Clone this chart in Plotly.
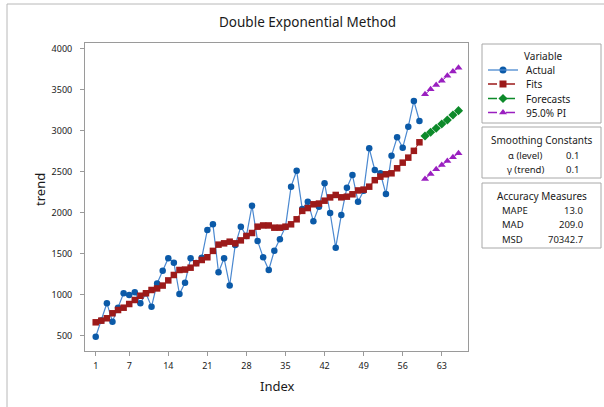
import plotly.graph_objects as go

# ---------------- data ----------------
index_actual = list(range(1, 60))
actual = [490, 690, 900, 675, 845, 1020, 1000, 1033, 900, 1020,
          857, 1140, 1295, 1448, 1394, 1012, 1150, 1448, 1390, 1455,
          1793, 1862, 1277, 1448, 1115, 1610, 1833, 1720, 2089, 1659,
          1460, 1305, 1540, 1679, 1830, 2321, 2516, 2050, 2138, 1900,
          2077, 2362, 2000, 1577, 1976, 2309, 2463, 2138, 2270, 2789,
          2524, 2484, 2232, 2699, 2923, 2797, 3052, 3366, 3122]
fits = [667, 687, 716, 777, 817, 845, 890, 939, 991, 1021,
        1061, 1080, 1115, 1178, 1244, 1305, 1310, 1333, 1387, 1427,
        1460, 1538, 1614, 1630, 1650, 1630, 1666, 1720, 1756, 1833,
        1848, 1848, 1821, 1821, 1833, 1862, 1923, 2026, 2060, 2106,
        2115, 2150, 2190, 2220, 2191, 2199, 2228, 2275, 2285, 2321,
        2400, 2443, 2472, 2484, 2545, 2614, 2675, 2758, 2862]
index_fc = list(range(60, 67))
forecasts = [2939, 2984, 3033, 3085, 3134, 3195, 3248]
pi_upper = [3448, 3509, 3562, 3614, 3675, 3724, 3772]
pi_lower = [2415, 2476, 2533, 2585, 2634, 2679, 2728]

x_ticks = [1, 7, 14, 21, 28, 35, 42, 49, 56, 63]
y_ticks = [500, 1000, 1500, 2000, 2500, 3000, 3500, 4000]

smoothing = [("α (level)", "0.1"), ("γ (trend)", "0.1")]
accuracy = [("MAPE", "13.0"), ("MAD", "209.0"), ("MSD", "70342.7")]

# ---------------- styles ----------------
FONT = "Noto Sans"
TXT = "#1a1a1a"
BLUE_M, BLUE_L = "#0b5aa8", "#4a88d0"
RED = "#9c1a1a"
GREEN = "#0d8a2a"
PURPLE = "#9a1fc0"
BOX = "#a8a8a8"

W, H = 604, 407
ML, MR, MT, MB = 85, 3, 43, 56
PW, PH = W - ML - MR, H - MT - MB
PLOT_RIGHT = 468


def px(x):
    return (x - ML) / PW


def py(y):
    return (H - MB - y) / PH


fig = go.Figure()

fig.add_trace(go.Scatter(x=index_actual, y=actual, mode="lines+markers",
                         line=dict(color=BLUE_L, width=1.2),
                         marker=dict(color=BLUE_M, size=6.5, symbol="circle"),
                         showlegend=False))
fig.add_trace(go.Scatter(x=index_actual, y=fits, mode="lines+markers",
                         line=dict(color=RED, width=1),
                         marker=dict(color=RED, size=6.5, symbol="square"),
                         showlegend=False))
fig.add_trace(go.Scatter(x=index_fc, y=forecasts, mode="lines+markers",
                         line=dict(color=GREEN, width=1, dash="dash"),
                         marker=dict(color=GREEN, size=7, symbol="diamond"),
                         showlegend=False))
for arr in (pi_upper, pi_lower):
    fig.add_trace(go.Scatter(x=index_fc, y=arr, mode="lines+markers",
                             line=dict(color=PURPLE, width=1, dash="dash"),
                             marker=dict(color=PURPLE, size=7, symbol="triangle-up"),
                             showlegend=False))

# ---------------- legend glyphs (separate axis in paper units) ----------------
leg_rows = [(70, BLUE_L, BLUE_M, "circle", "solid", "Actual"),
            (84, RED, RED, "square", "dashdot", "Fits"),
            (98.5, GREEN, GREEN, "diamond", "dash", "Forecasts"),
            (112.5, PURPLE, PURPLE, "triangle-up", "dash", "95.0% PI")]
shapes = []
annotations = []
for yy, lc, mc, sym, dash, label in leg_rows:
    shapes.append(dict(type="line", xref="paper", yref="paper",
                       x0=px(488), x1=px(518), y0=py(yy), y1=py(yy),
                       line=dict(color=lc, width=1.3, dash=dash)))
    fig.add_trace(go.Scatter(x=[px(503)], y=[py(yy)], mode="markers",
                             marker=dict(color=mc, size=7, symbol=sym),
                             xaxis="x2", yaxis="y2", showlegend=False,
                             hoverinfo="skip", cliponaxis=False))
    annotations.append(dict(x=px(524), y=py(yy), xref="paper", yref="paper",
                            text=label, showarrow=False, xanchor="left",
                            yanchor="middle", font=dict(size=10, color=TXT, family=FONT)))

# boxes
for (y0, y1) in [(44, 123), (127, 178), (183, 248)]:
    shapes.append(dict(type="rect", xref="paper", yref="paper",
                       x0=px(482), x1=px(601), y0=py(y0), y1=py(y1),
                       line=dict(color=BOX, width=1)))
# outer frame
shapes.append(dict(type="rect", xref="paper", yref="paper",
                   x0=px(7), x1=px(620), y0=py(4), y1=py(430),
                   line=dict(color="#b8b8b8", width=1)))

annotations.append(dict(x=px(543), y=py(56), xref="paper", yref="paper",
                        text="Variable", showarrow=False, xanchor="center",
                        yanchor="middle", font=dict(size=10, color=TXT, family=FONT)))
annotations.append(dict(x=px(541.5), y=py(139.5), xref="paper", yref="paper",
                        text="Smoothing Constants", showarrow=False, xanchor="center",
                        yanchor="middle", font=dict(size=10, color=TXT, family=FONT)))
for i, (lab, val) in enumerate(smoothing):
    yy = 155 + i * 14.3
    annotations.append(dict(x=px(525), y=py(yy), xref="paper", yref="paper",
                            text=lab, showarrow=False, xanchor="center", yanchor="middle",
                            font=dict(size=9.5, color=TXT, family=FONT)))
    annotations.append(dict(x=px(572), y=py(yy), xref="paper", yref="paper",
                            text=val, showarrow=False, xanchor="center", yanchor="middle",
                            font=dict(size=9.5, color=TXT, family=FONT)))
annotations.append(dict(x=px(542), y=py(195.7), xref="paper", yref="paper",
                        text="Accuracy Measures", showarrow=False, xanchor="center",
                        yanchor="middle", font=dict(size=10, color=TXT, family=FONT)))
for i, (lab, val) in enumerate(accuracy):
    yy = 210.7 + i * 14.2
    annotations.append(dict(x=px(500), y=py(yy), xref="paper", yref="paper",
                            text=lab, showarrow=False, xanchor="left", yanchor="middle",
                            font=dict(size=9.5, color=TXT, family=FONT)))
    annotations.append(dict(x=px(585), y=py(yy), xref="paper", yref="paper",
                            text=val, showarrow=False, xanchor="right", yanchor="middle",
                            font=dict(size=9.5, color=TXT, family=FONT)))

# title & axis titles
annotations.append(dict(x=px(307), y=py(22), xref="paper", yref="paper",
                        text="Double Exponential Method", showarrow=False,
                        xanchor="center", yanchor="middle",
                        font=dict(size=13.5, color=TXT, family=FONT)))
annotations.append(dict(x=px(277), y=py(386), xref="paper", yref="paper",
                        text="Index", showarrow=False, xanchor="center", yanchor="middle",
                        font=dict(size=13, color=TXT, family=FONT)))
annotations.append(dict(x=px(40), y=py(190), xref="paper", yref="paper",
                        text="trend", showarrow=False, xanchor="center", yanchor="middle",
                        textangle=-90, font=dict(size=13, color=TXT, family=FONT)))

fig.update_layout(
    width=W, height=H,
    margin=dict(l=ML, r=MR, t=MT, b=MB, pad=0),
    paper_bgcolor="white", plot_bgcolor="rgba(0,0,0,0)",
    font=dict(family=FONT, color=TXT, size=9),
    xaxis=dict(domain=[0, (PLOT_RIGHT - ML) / PW], range=[-0.92, 67.7],
               tickvals=x_ticks, ticktext=[str(t) for t in x_ticks],
               showgrid=False, zeroline=False, showline=True, mirror=True,
               linecolor="#9a9a9a", linewidth=1, ticks="outside", ticklen=4,
               tickcolor="#9a9a9a", ticklabelstandoff=2,
               tickfont=dict(size=9, color=TXT, family=FONT)),
    yaxis=dict(domain=[0, 1], range=[317, 4073],
               tickvals=y_ticks, ticktext=[str(t) for t in y_ticks],
               showgrid=False, zeroline=False, showline=True, mirror=True,
               linecolor="#9a9a9a", linewidth=1, ticks="outside", ticklen=4,
               tickcolor="#9a9a9a", ticklabelstandoff=6,
               tickfont=dict(size=9, color=TXT, family=FONT)),
    xaxis2=dict(domain=[0, 1], range=[0, 1], visible=False, anchor="y2",
                fixedrange=True),
    yaxis2=dict(domain=[0, 1], range=[0, 1], visible=False, anchor="x2",
                fixedrange=True),
    shapes=shapes, annotations=annotations,
)

fig.write_html("out.html")
